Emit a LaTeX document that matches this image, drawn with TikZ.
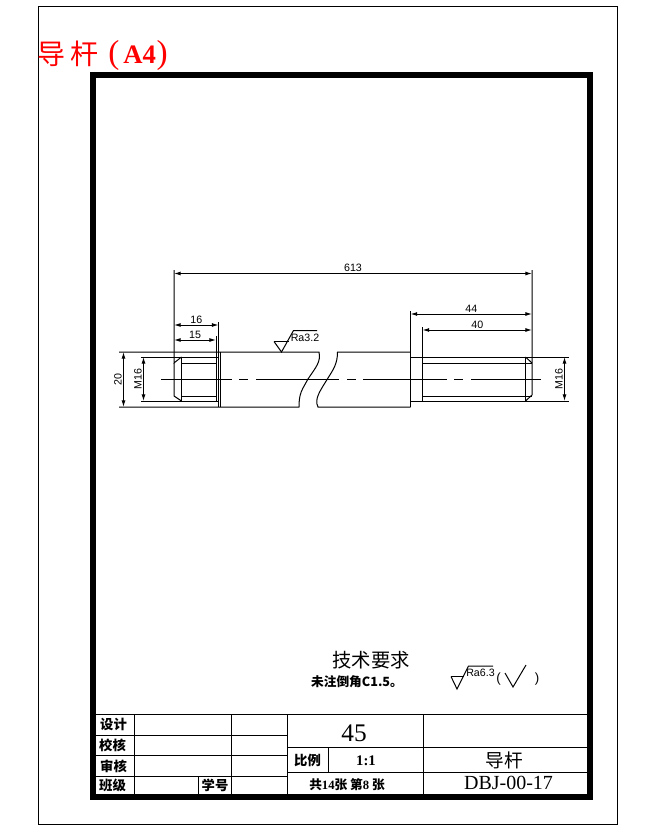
\documentclass[tikz,border=0pt]{standalone}
\usepackage{fontspec}
\setmainfont{Liberation Serif}
\setsansfont{Liberation Sans}
\newfontfamily\cjk{Noto Sans CJK SC}
\usetikzlibrary{arrows.meta,positioning}
\tikzset{every picture/.style={line width=0.75pt}}
\tikzstyle{dim}=[inner sep=1pt,font=\sffamily\fontsize{8}{9}\selectfont]
\tikzstyle{cell}=[inner sep=0pt,font=\cjk\bfseries\fontsize{10}{11}\selectfont]
\tikzstyle{num}=[inner sep=0pt,font=\bfseries\fontsize{11}{12}\selectfont]
\begin{document}
\begin{tikzpicture}[x=0.75pt,y=-0.75pt]
\useasboundingbox (0,0) rectangle (654,830);
\draw (38.5,6.5) rectangle (617,824);
\draw[line width=4.5pt] (93,75) rectangle (589.5,797);
\node[text=red,inner sep=0pt,font=\cjk\fontsize{21}{22}\selectfont] (title) at (68,54) {导\hspace{4pt}杆};
\node[text=red,inner sep=0pt,font=\bfseries\fontsize{20}{22}\selectfont] (titleb) at (138,55) {{\mdseries\fontsize{25}{25}\selectfont(}\hspace{3pt}A4\hspace{0.5pt}{\mdseries\fontsize{25}{25}\selectfont)}};
\draw (96,714) -- (587,714);
\draw (96,735.5) -- (287,735.5);
\draw (96,755.5) -- (287,755.5);
\draw (96,776) -- (287,776);
\draw (287,747) -- (587,747);
\draw (287,772.5) -- (587,772.5);
\draw (134,714) -- (134,794);
\draw (231.5,714) -- (231.5,794);
\draw (287,714) -- (287,794);
\draw (423,714) -- (423,794);
\draw (328,747) -- (328,772.5);
\draw (198,776) -- (198,794);
\node[cell] (sheji) at (113.5,724) {设计};
\node[cell] (jiaohe) at (112.5,745) {校核};
\node[cell] (shenhe) at (113.5,766) {审核};
\node[cell] (banji) at (112.5,785) {班级};
\node[cell] (xuehao) at (215,785) {学号};
\node[cell] (bili) at (307.5,760) {比例};
\node[cell,font=\cjk\bfseries\fontsize{9.5}{11}\selectfont] (zhang) at (347,785) {共\textrm{14}张 第\textrm{8} 张};
\node[num,font=\fontsize{19}{20}\selectfont] (mat) at (354,733) {45};
\node[num] (ratio) at (366,761) {1:1};
\node[cell,font=\cjk\fontsize{14}{15}\selectfont] (name) at (504,760) {导杆};
\node[num,font=\fontsize{15}{16}\selectfont] (code) at (508.5,783) {DBJ-00-17};
\node[inner sep=0pt,font=\cjk\fontsize{14.5}{16}\selectfont] (req) at (371,660) {技术要求};
\node[cell,font=\cjk\bfseries\fontsize{9.5}{11}\selectfont] (chamfer) at (357,682) {未注倒角C1.5。};
\draw (119,352) -- (319,352) .. controls (321,362) and (316,367) .. (308,379) .. controls (302,390) and (299,393) .. (299,407) -- (119,407);
\draw (410.5,352) -- (337.5,352) .. controls (337.5,364) and (333,370) .. (328,378) .. controls (320,391) and (314,399) .. (318,407) -- (410.5,407);
\draw (410.5,311) -- (410.5,407);
\draw (220,352) -- (220,407);
\draw (218.5,322) -- (218.5,407);
\draw (216,336) -- (216,401);
\draw (174,270) -- (174,363) -- (181.5,357);
\draw (174,363) -- (174,396) -- (181.5,401);
\draw (181.5,357) -- (181.5,401);
\draw (141,357) -- (218.5,357);
\draw (141,401) -- (218.5,401);
\draw (181.5,363) -- (216,363);
\draw (181.5,396) -- (216,396);
\draw (422.5,327) -- (422.5,401);
\draw (410.5,357) -- (569,357);
\draw (410.5,401) -- (569,401);
\draw (422.5,363) -- (532,363);
\draw (422.5,396) -- (532,396);
\draw (525.5,357) -- (525.5,401);
\draw (532,270) -- (532,395) -- (525.5,401);
\draw (525.5,357) -- (532,363);
\draw (161,379.5) -- (232,379.5);
\draw (239,379.5) -- (248,379.5);
\draw (256,379.5) -- (339,379.5);
\draw (347,379.5) -- (356,379.5);
\draw (363,379.5) -- (447,379.5);
\draw (454,379.5) -- (463,379.5);
\draw (471,379.5) -- (541,379.5);
\coordinate (a1) at (174,273.5);
\coordinate (a2) at (532,273.5);
\coordinate (b1) at (410.5,314);
\coordinate (b2) at (532,314);
\coordinate (c1) at (422.5,330);
\coordinate (c2) at (532,330);
\coordinate (d1) at (174,325);
\coordinate (d2) at (218.5,325);
\coordinate (e1) at (174,340);
\coordinate (e2) at (216,340);
\coordinate (f1) at (123.5,352);
\coordinate (f2) at (123.5,407);
\coordinate (g1) at (143.5,357);
\coordinate (g2) at (143.5,401);
\coordinate (h1) at (564.5,357);
\coordinate (h2) at (564.5,401);
\path[{Latex[length=5pt,width=3pt]}-{Latex[length=5pt,width=3pt]}]
(a1) edge[draw] node[dim,above] {613} (a2)
(b1) edge[draw] node[dim,above] {44} (b2)
(c1) edge[draw] node[dim,above] {40} (c2)
(d1) edge[draw] node[dim,above] {16} (d2)
(e1) edge[draw] node[dim,above] {15} (e2)
(f1) edge[draw] node[dim,above,sloped,rotate=180] {20} (f2)
(g1) edge[draw] node[dim,above,sloped,rotate=180] {M16} (g2)
(h1) edge[draw] node[dim,above,sloped,rotate=180] {M16} (h2);
\draw (274,341.5) -- (288.5,341.5);
\draw (274,341.5) -- (281.5,352) -- (293.5,330.5) -- (317,330.5);
\node[dim] (ra1) at (305,337.5) {Ra3.2};
\draw (451,676.5) -- (463.5,676.5);
\draw (451,676.5) -- (457,689) -- (468.5,666) -- (493,666);
\node[dim] (ra2) at (480.5,673) {Ra6.3};
\node[dim,font=\sffamily\fontsize{10}{11}\selectfont] (pl) at (498.5,679) {(};
\node[dim,font=\sffamily\fontsize{10}{11}\selectfont] (pr) at (537,679) {)};
\draw (505,673) -- (513,687) -- (526,665);
\end{tikzpicture}
\end{document}
